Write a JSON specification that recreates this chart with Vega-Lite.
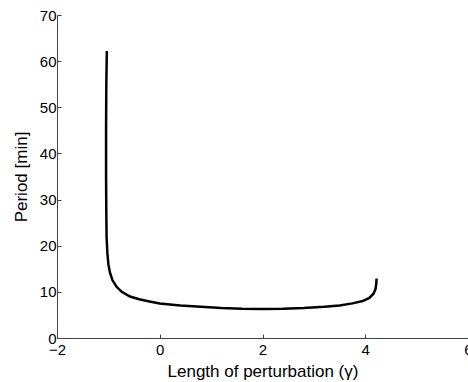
{
  "$schema": "https://vega.github.io/schema/vega-lite/v6.json",
  "width": 411,
  "height": 323,
  "autosize": "none",
  "padding": {"left": 57, "top": 15, "right": 0, "bottom": 44},
  "background": "white",
  "config": {
    "view": {"stroke": null},
    "font": "Liberation Sans",
    "axis": {
      "grid": false,
      "domainColor": "#444444",
      "domainWidth": 1,
      "tickColor": "#444444",
      "tickSize": -4,
      "labelFont": "Liberation Sans",
      "labelFontSize": 15,
      "labelColor": "#000000",
      "titleFont": "Liberation Sans",
      "titleFontSize": 17,
      "titleFontWeight": "normal",
      "titleColor": "#000000"
    }
  },
  "data": {
    "values": [
      {"i": 0, "x": -1.03, "y": 62.2},
      {"i": 1, "x": -1.04, "y": 55},
      {"i": 2, "x": -1.045, "y": 45},
      {"i": 3, "x": -1.045, "y": 35},
      {"i": 4, "x": -1.04, "y": 27},
      {"i": 5, "x": -1.035, "y": 22},
      {"i": 6, "x": -1.02, "y": 18.5},
      {"i": 7, "x": -1.0, "y": 16},
      {"i": 8, "x": -0.97, "y": 14.2},
      {"i": 9, "x": -0.92, "y": 12.5},
      {"i": 10, "x": -0.84, "y": 11.1},
      {"i": 11, "x": -0.74, "y": 10.0},
      {"i": 12, "x": -0.58, "y": 9.0},
      {"i": 13, "x": -0.4, "y": 8.4},
      {"i": 14, "x": -0.2, "y": 7.9},
      {"i": 15, "x": 0, "y": 7.5},
      {"i": 16, "x": 0.4, "y": 7.05},
      {"i": 17, "x": 0.8, "y": 6.75},
      {"i": 18, "x": 1.2, "y": 6.5},
      {"i": 19, "x": 1.6, "y": 6.35},
      {"i": 20, "x": 2.0, "y": 6.3},
      {"i": 21, "x": 2.4, "y": 6.35},
      {"i": 22, "x": 2.8, "y": 6.5},
      {"i": 23, "x": 3.2, "y": 6.75},
      {"i": 24, "x": 3.5, "y": 7.05},
      {"i": 25, "x": 3.75, "y": 7.5},
      {"i": 26, "x": 3.95, "y": 8.0},
      {"i": 27, "x": 4.08, "y": 8.7},
      {"i": 28, "x": 4.16, "y": 9.6},
      {"i": 29, "x": 4.2, "y": 10.6},
      {"i": 30, "x": 4.215, "y": 11.8},
      {"i": 31, "x": 4.22, "y": 12.9}
    ]
  },
  "mark": {"type": "line", "color": "#000000", "strokeWidth": 2.5, "interpolate": "linear", "clip": true},
  "encoding": {
    "x": {
      "field": "x", "type": "quantitative",
      "scale": {"domain": [-2, 6], "nice": false, "zero": false},
      "axis": {"values": [-2, 0, 2, 4, 6], "title": "Length of perturbation (γ)", "labelPadding": 8, "titlePadding": 6, "labelFlush": false, "labelOverlap": false}
    },
    "y": {
      "field": "y", "type": "quantitative",
      "scale": {"domain": [0, 70], "nice": false},
      "axis": {"values": [0, 10, 20, 30, 40, 50, 60, 70], "title": "Period [min]", "labelPadding": 5, "titlePadding": 9, "labelFlush": false, "labelOverlap": false}
    },
    "order": {"field": "i", "type": "quantitative"}
  }
}
